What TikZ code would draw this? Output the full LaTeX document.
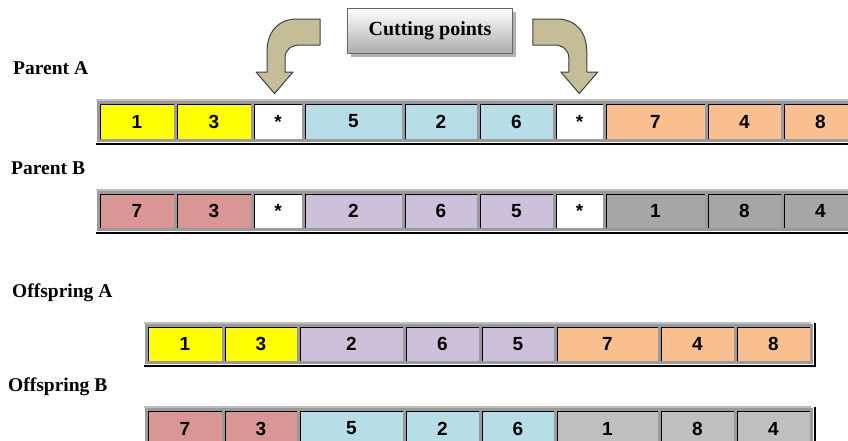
\documentclass[tikz,border=0pt]{standalone}
\usepackage{fontspec}
\setmainfont{Liberation Serif}
\setsansfont{Liberation Sans}
\definecolor{cyel}{HTML}{FFFF00}
\definecolor{cblue}{HTML}{B7DEE8}
\definecolor{cpink}{HTML}{DA9694}
\definecolor{clav}{HTML}{CCC0DA}
\definecolor{corange}{HTML}{FABF8F}
\definecolor{cgrayd}{HTML}{A6A6A6}
\definecolor{cgrayl}{HTML}{BFBFBF}
\definecolor{cframe}{HTML}{9A9A9A}
\definecolor{carrow}{HTML}{C4BD97}
\definecolor{carrowline}{HTML}{404040}
\tikzset{
  gene/.style={draw=cframe, line width=3pt, inner sep=0pt, anchor=north west,
    font=\sffamily\bfseries\fontsize{19}{19}\selectfont,
    path picture={\draw[black,line width=1.3pt]
      ([xshift=2.1pt]path picture bounding box.south west) --
      ([xshift=2.1pt,yshift=-2.1pt]path picture bounding box.north west) --
      ([yshift=-2.1pt]path picture bounding box.north east);}},
  rowlabel/.style={anchor=base west, inner sep=0pt, font=\bfseries\fontsize{19.5}{20}\selectfont},
  bentarrow/.style={fill=carrow, draw=carrowline, line width=1pt, line join=round},
  rowbase/.style={black, line width=2pt}
}
\begin{document}
\begin{tikzpicture}[x=1pt,y=-1pt]
\useasboundingbox (0,0) rectangle (848,440);
\clip (0,0) rectangle (848,440);

% Cutting points box
\fill[gray!60] (351,12) rectangle (516,57);
\node[draw=gray!80!black, line width=1pt, top color=white, bottom color=gray!65,
  minimum width=165pt, minimum height=45pt, anchor=north west, inner sep=0pt,
  font=\bfseries\fontsize{20}{20}\selectfont] (cut) at (347,8) {Cutting points};

% bent arrows
\begin{scope}[shift={(274.5,0)}]
\draw[bentarrow] (45.5,19) -- (22.5,19) .. controls (3.5,19) and (-7.5,32) .. (-7.5,52)
  -- (-7.5,72) -- (-18.5,72) -- (0,93.5) -- (18.5,72) -- (10.5,72) -- (10.5,58)
  .. controls (10.5,50) and (16.5,45) .. (25.5,45) -- (45.5,45) -- cycle;
\end{scope}
\begin{scope}[shift={(579.3,0)}, xscale=-1]
\draw[bentarrow] (46.5,19) -- (22.5,19) .. controls (3.5,19) and (-7.5,32) .. (-7.5,52)
  -- (-7.5,72) -- (-18.5,72) -- (0,93.5) -- (18.5,72) -- (10.5,72) -- (10.5,58)
  .. controls (10.5,50) and (16.5,45) .. (25.5,45) -- (46.5,45) -- cycle;
\end{scope}

% labels
\node[rowlabel] (lpa) at (13,74) {Parent A};
\node[rowlabel] (lpb) at (11,174) {Parent B};
\node[rowlabel] (loa) at (12,297) {Offspring A};
\node[rowlabel] (lob) at (8,391) {Offspring B};

% Parent A
\draw[gray!50, line width=1.5pt] (96,100) -- (857,100);
\foreach \a/\b/\c/\t [count=\i] in {97/174/cyel/1, 174/251/cyel/3, 251/302/white/*,
  302/402/cblue/5, 402/477/cblue/2, 477/553/cblue/6, 553/603/white/*,
  603/705/corange/7, 705/781/corange/4, 781/857/corange/8}
  \node[gene, fill=\c, minimum width={(\b-\a)*1pt}, minimum height=38pt] (pa\i) at (\a,101) {\t};
\draw[rowbase] (pa1.south west) ++(-1,1.5) -- ([yshift=-1.5pt]pa10.south east);

% Parent B
\draw[gray!50, line width=1.5pt] (96,190) -- (857,190);
\foreach \a/\b/\c/\t [count=\i] in {97/174/cpink/7, 174/251/cpink/3, 251/302/white/*,
  302/402/clav/2, 402/477/clav/6, 477/553/clav/5, 553/603/white/*,
  603/705/cgrayd/1, 705/781/cgrayd/8, 781/857/cgrayd/4}
  \node[gene, fill=\c, minimum width={(\b-\a)*1pt}, minimum height=37pt] (pb\i) at (\a,191) {\t};
\draw[rowbase] (pb1.south west) ++(-1,1.5) -- ([yshift=-1.5pt]pb10.south east);

% Offspring A
\draw[gray!50, line width=1.5pt] (144,323) -- (811,323);
\foreach \a/\b/\c/\t [count=\i] in {145/222/cyel/1, 222/297/cyel/3, 297/403/clav/2,
  403/479/clav/6, 479/554/clav/5, 554/658/corange/7, 658/734/corange/4, 734/810/corange/8}
  \node[gene, fill=\c, minimum width={(\b-\a)*1pt}, minimum height=37pt] (oa\i) at (\a,324) {\t};
\draw[rowbase] (oa1.south west) ++(-1,1.5) -- ([xshift=1.5pt,yshift=-1.5pt]oa8.south east)
  -- ([xshift=1.5pt,yshift=1pt]oa8.north east);

% Offspring B
\draw[gray!50, line width=1.5pt] (144,407) -- (811,407);
\foreach \a/\b/\c/\t [count=\i] in {145/222/cpink/7, 222/297/cpink/3, 297/403/cblue/5,
  403/479/cblue/2, 479/554/cblue/6, 554/658/cgrayl/1, 658/734/cgrayl/8, 734/810/cgrayl/4}
  \node[gene, fill=\c, minimum width={(\b-\a)*1pt}, minimum height=38pt] (ob\i) at (\a,408) {\t};
\draw[rowbase] (ob1.south west) ++(-1,1.5) -- ([xshift=1.5pt,yshift=-1.5pt]ob8.south east)
  -- ([xshift=1.5pt,yshift=1pt]ob8.north east);
\end{tikzpicture}
\end{document}
